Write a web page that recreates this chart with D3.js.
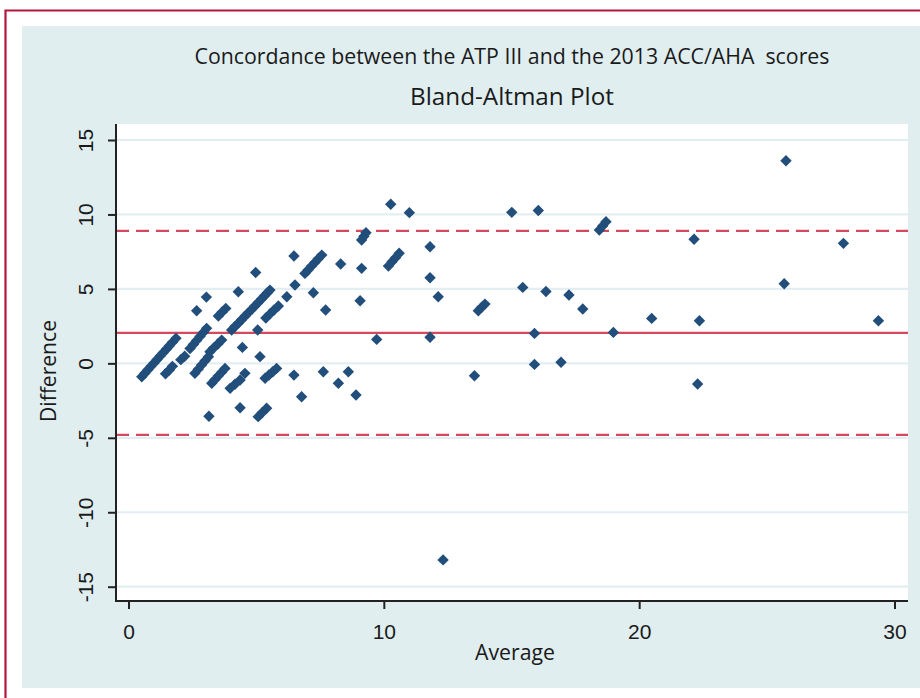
<!DOCTYPE html>
<html>
<head>
<meta charset="utf-8">
<script src="https://cdn.jsdelivr.net/npm/d3@7"></script>
<style>
  html, body { margin: 0; padding: 0; background: #ffffff; }
  svg { display: block; }
</style>
</head>
<body>
<svg id="chart" width="920" height="698"></svg>
<script>
// ---- Data ----
const titleText = "Concordance between the ATP III and the 2013 ACC/AHA\u00a0 scores";
const subtitleText = "Bland-Altman Plot";
const xLabel = "Average";
const yLabel = "Difference";
const xTicks = [0, 10, 20, 30];
const yTicks = [-15, -10, -5, 0, 5, 10, 15];
const meanDiff = 2.05;
const upperLimit = 8.9;
const lowerLimit = -4.8;

const averages = [
  0.52, 0.64, 0.76, 0.88, 1.00, 1.12, 1.24, 1.36, 1.48, 1.60, 1.72, 1.86,
  1.45, 1.60, 1.72,
  2.05, 2.20,
  2.41, 2.54, 2.67, 2.80, 2.93, 3.06,
  2.67, 3.05,
  2.60, 2.73, 2.86, 3.00, 3.13,
  3.15,
  3.52, 3.67, 3.81,
  3.19, 3.34, 3.50, 3.65,
  3.26, 3.39, 3.52, 3.65, 3.78,
  3.98, 4.17, 4.37,
  4.30,
  4.04, 4.17, 4.30, 4.43, 4.56, 4.69, 4.82, 4.95, 5.08, 5.20, 5.32, 5.43, 5.54,
  4.46, 4.56, 4.37, 4.98,
  5.06, 5.15,
  5.38, 5.54, 5.70, 5.87,
  5.35, 5.50, 5.65, 5.80,
  5.08, 5.24, 5.41,
  6.20, 6.48, 6.52, 6.48,
  6.91, 7.04, 7.17, 7.30, 7.43, 7.57,
  8.31, 9.13, 7.24, 7.72, 9.07, 9.72, 7.63, 8.61, 8.22, 6.78, 8.91,
  9.13, 9.22, 9.30,
  10.27, 11.00,
  10.18, 10.32, 10.46, 10.60,
  11.81, 11.81, 12.13, 11.81, 12.32, 13.55,
  13.70, 13.83, 13.96,
  15.01, 16.05, 15.44, 16.35, 17.25, 17.79, 15.90, 15.90, 16.94,
  18.44, 18.57, 18.70,
  18.99, 20.49, 22.15, 22.36, 22.29, 25.75, 25.68, 28.00, 29.37
];
const differences = [
  -0.90, -0.66, -0.43, -0.20, 0.03, 0.26, 0.49, 0.72, 0.95, 1.18, 1.41, 1.68,
  -0.70, -0.45, -0.20,
  0.25, 0.48,
  1.00, 1.27, 1.54, 1.81, 2.08, 2.35,
  3.53, 4.45,
  -0.67, -0.39, -0.11, 0.17, 0.44,
  -3.55,
  3.18, 3.45, 3.69,
  0.78, 1.04, 1.30, 1.56,
  -1.34, -1.09, -0.84, -0.59, -0.34,
  -1.68, -1.40, -1.12,
  4.81,
  2.24, 2.47, 2.70, 2.93, 3.16, 3.39, 3.62, 3.85, 4.08, 4.30, 4.52, 4.72, 4.92,
  1.07, -0.67, -2.98, 6.10,
  2.24, 0.45,
  3.05, 3.32, 3.58, 3.85,
  -1.00, -0.78, -0.56, -0.34,
  -3.58, -3.30, -3.02,
  4.47, -0.79, 5.26, 7.21,
  6.04, 6.28, 6.53, 6.78, 7.02, 7.27,
  6.67, 6.38, 4.74, 3.58, 4.20, 1.61, -0.56, -0.56, -1.34, -2.24, -2.13,
  8.28, 8.53, 8.77,
  10.68, 10.12,
  6.53, 6.82, 7.10, 7.39,
  7.83, 5.75, 4.47, 1.75, -13.20, -0.83,
  3.53, 3.76, 3.98,
  10.14, 10.27, 5.10, 4.83, 4.59, 3.65, 2.01, -0.07, 0.07,
  8.95, 9.23, 9.51,
  2.08, 3.02, 8.33, 2.86, -1.39, 13.61, 5.35, 8.06, 2.86
];

// ---- Layout ----
const W = 920, H = 698;
const plot = { left: 116, right: 908, top: 124, bottom: 601 };
const colors = {
  border: "#b3163f",
  panel: "#e0eef0",
  grid: "#e3eef2",
  red: "#d34a5e",
  point: "#214e7a",
  axis: "#222222",
  text: "#1a1a1a"
};

const svg = d3.select("#chart");

// outer frame
svg.append("rect").attr("x", 22).attr("y", 26).attr("width", W - 22).attr("height", 688 - 26)
  .attr("fill", colors.panel);
svg.append("path").attr("d", `M5.5,${H} L5.5,10.5 L${W},10.5`)
  .attr("fill", "none").attr("stroke", colors.border).attr("stroke-width", 2.2);

// plot region
svg.append("rect").attr("x", plot.left).attr("y", plot.top)
  .attr("width", plot.right - plot.left).attr("height", plot.bottom - plot.top)
  .attr("fill", "#ffffff");

const x = d3.scaleLinear().domain([0, 30]).range([128.5, 894.5]);
const y = d3.scaleLinear().domain([-15, 15]).range([586.7, 140]);

// gridlines
svg.append("g").selectAll("line").data(yTicks).join("line")
  .attr("x1", plot.left).attr("x2", plot.right)
  .attr("y1", d => y(d)).attr("y2", d => y(d))
  .attr("stroke", colors.grid).attr("stroke-width", 2.2);

// reference lines
const refs = [
  { v: upperLimit, dash: "13,7" },
  { v: meanDiff, dash: null },
  { v: lowerLimit, dash: "13,7" }
];
svg.append("g").selectAll("line").data(refs).join("line")
  .attr("x1", plot.left).attr("x2", plot.right)
  .attr("y1", d => y(d.v)).attr("y2", d => y(d.v))
  .attr("stroke", colors.red).attr("stroke-width", 2.2)
  .attr("stroke-dasharray", d => d.dash);

// points
const pts = averages.map((a, i) => ({ a, d: differences[i] }));
const r = 5.7;
const diamond = `M0,${-r} L${r},0 L0,${r} L${-r},0 Z`;
svg.append("g").selectAll("path").data(pts).join("path")
  .attr("d", diamond)
  .attr("transform", p => `translate(${x(p.a)},${y(p.d)})`)
  .attr("fill", colors.point);

// axes
const tickFont = "'Liberation Sans', Arial, sans-serif";
const yAxis = d3.axisLeft(y).tickValues(yTicks).tickSize(8).tickSizeOuter(0).tickFormat(d3.format("d"));
const gy = svg.append("g").attr("transform", `translate(${plot.left},0)`).call(yAxis);
gy.select(".domain").remove();
gy.selectAll(".tick line").attr("stroke", colors.axis).attr("stroke-width", 2);
gy.selectAll(".tick text")
  .attr("transform", "rotate(-90)")
  .attr("x", 0).attr("y", -23).attr("dy", 0)
  .attr("text-anchor", "middle")
  .style("font-family", tickFont)
  .style("font-size", "21px")
  .attr("fill", colors.text)
  .text(d => d < 0 ? "-" + Math.abs(d) : d);

const xAxis = d3.axisBottom(x).tickValues(xTicks).tickSize(8).tickSizeOuter(0).tickFormat(d3.format("d"));
const gx = svg.append("g").attr("transform", `translate(0,${plot.bottom})`).call(xAxis);
gx.select(".domain").remove();
gx.selectAll(".tick line").attr("stroke", colors.axis).attr("stroke-width", 2);
gx.selectAll(".tick text")
  .attr("y", 38).attr("dy", 0)
  .style("font-family", tickFont)
  .style("font-size", "21px")
  .attr("fill", colors.text);

// axis lines
svg.append("line").attr("x1", plot.left).attr("x2", plot.left)
  .attr("y1", plot.top).attr("y2", plot.bottom + 1)
  .attr("stroke", colors.axis).attr("stroke-width", 2);
svg.append("line").attr("x1", plot.left - 1).attr("x2", plot.right)
  .attr("y1", plot.bottom).attr("y2", plot.bottom)
  .attr("stroke", colors.axis).attr("stroke-width", 2);

// titles
function fitText(sel, target) {
  const w = sel.node().getComputedTextLength();
  const fs = parseFloat(sel.style("font-size"));
  sel.style("font-size", (fs * target / w).toFixed(2) + "px");
}
const font = "'Open Sans', 'Noto Sans', sans-serif";
const t1 = svg.append("text").attr("x", 512).attr("y", 64).attr("text-anchor", "middle")
  .style("font-family", font).style("font-size", "18px").attr("fill", colors.text).text(titleText);
fitText(t1, 635);
const t2 = svg.append("text").attr("x", 512).attr("y", 105).attr("text-anchor", "middle")
  .style("font-family", font).style("font-size", "21px").attr("fill", colors.text).text(subtitleText);
fitText(t2, 204);
const xl = svg.append("text").attr("x", 515).attr("y", 660).attr("text-anchor", "middle")
  .style("font-family", font).style("font-size", "20px").attr("fill", colors.text).text(xLabel);
fitText(xl, 80);
const yl = svg.append("text").attr("transform", "translate(56,371) rotate(-90)").attr("text-anchor", "middle")
  .style("font-family", font).style("font-size", "20px").attr("fill", colors.text).text(yLabel);
fitText(yl, 102);
</script>
</body>
</html>
